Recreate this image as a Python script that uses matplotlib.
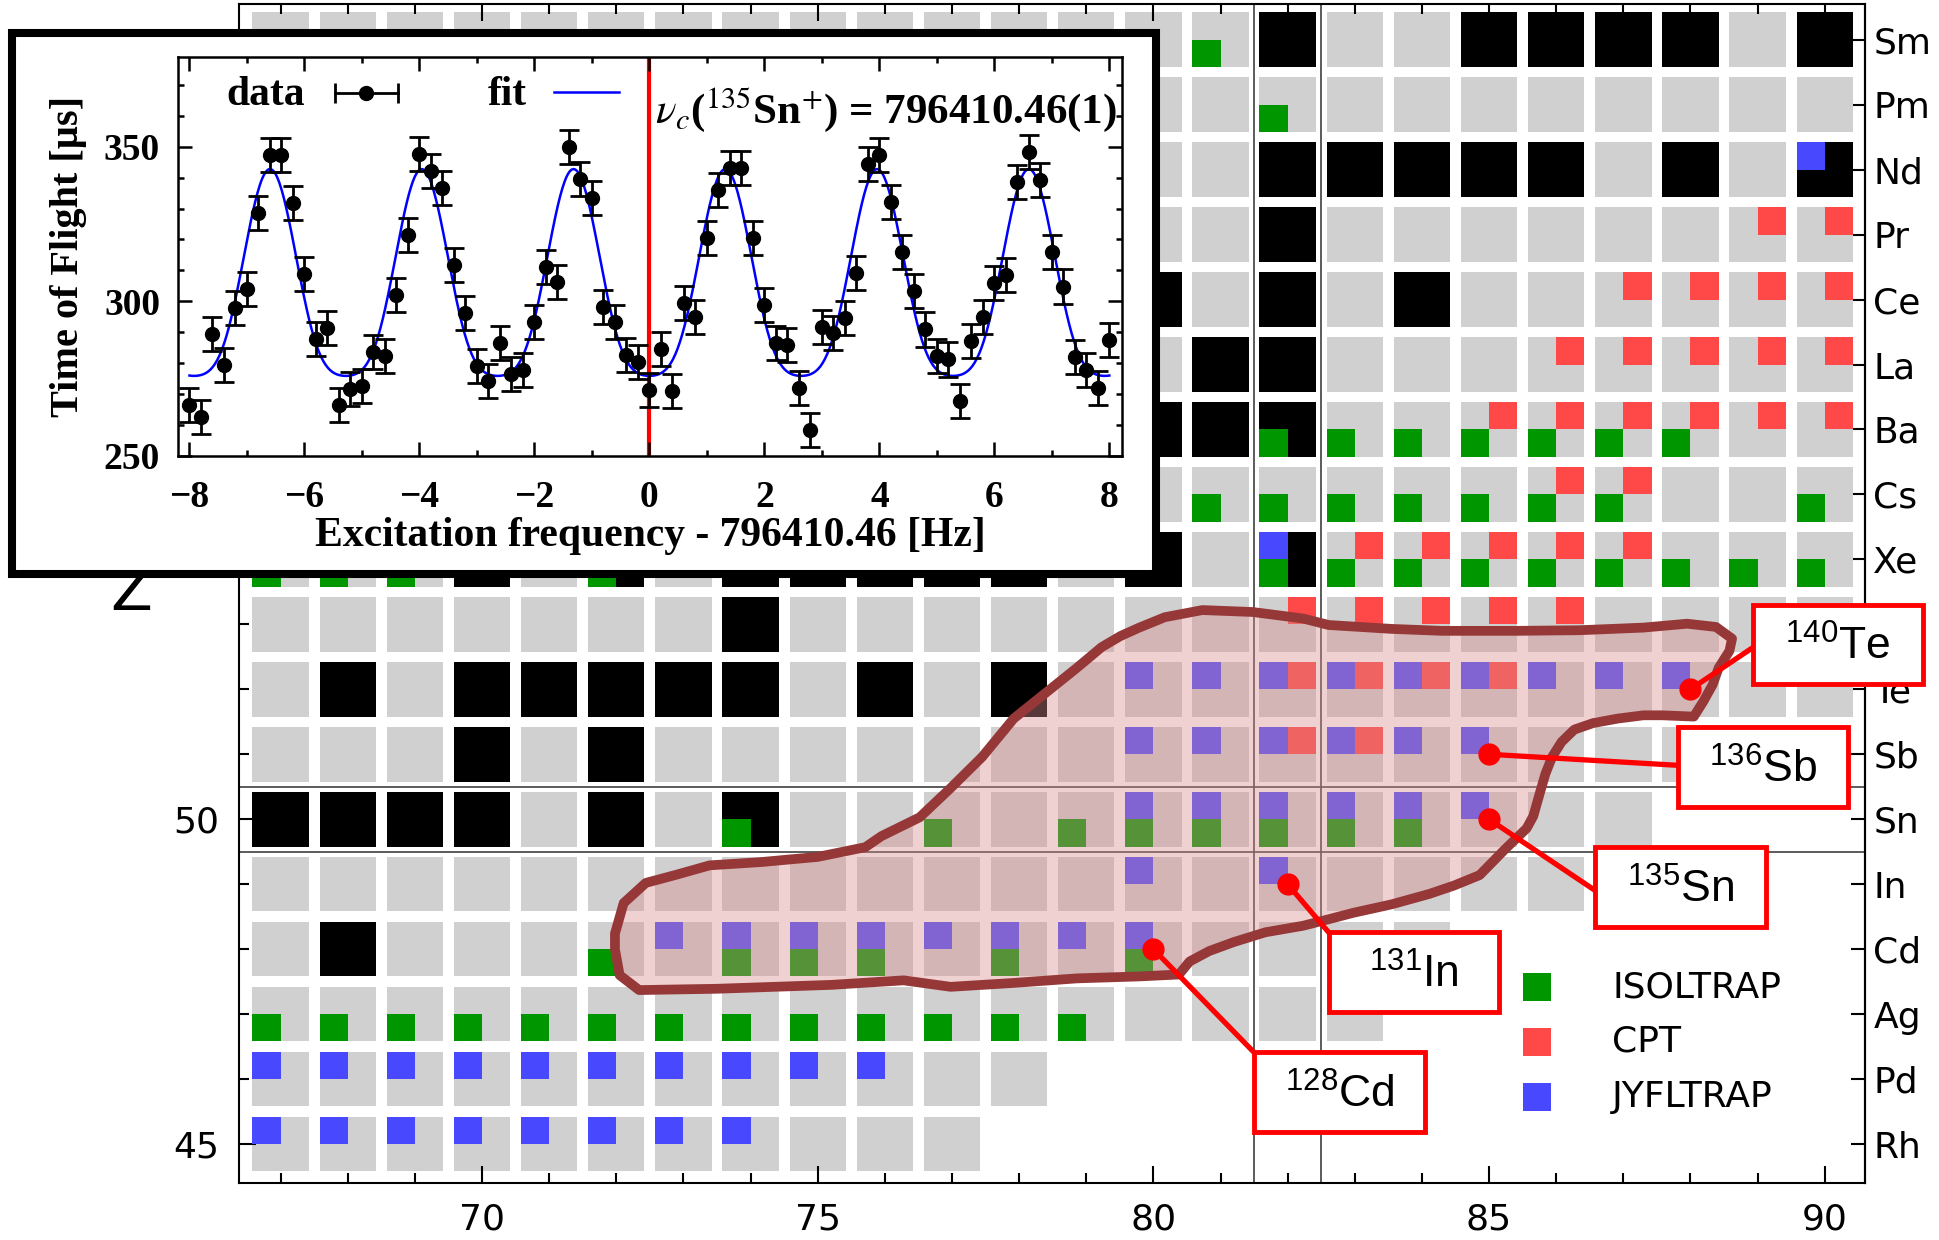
import numpy as np
import matplotlib
matplotlib.use("Agg")
import matplotlib.pyplot as plt
from matplotlib.patches import Rectangle, Polygon
from matplotlib import font_manager

# ---- nuclide chart data ----
N_MIN = 67
row_z = [45, 46, 47, 48, 49, 50, 51, 52, 53, 54, 55, 56, 57, 58, 59, 60, 61, 62]
row_nmax = [77, 78, 83, 84, 86, 87, 88, 90, 90, 90, 90, 90, 90, 90, 90, 90, 90, 90]
# the "I" (Z=53) label sits under the 140Te box in the original, so it is left blank
symbols = ["Rh", "Pd", "Ag", "Cd", "In", "Sn", "Sb", "Te", "", "Xe",
           "Cs", "Ba", "La", "Ce", "Pr", "Nd", "Pm", "Sm"]
# Z = 55 and 60 labels are hidden behind the inset
z_major = [45, 50, 55, 60]
z_major_labels = ["45", "50", "", ""]

# stable nuclides {Z: [N, ...]}
stable = {48: [68], 50: [67, 68, 69, 70, 72, 74], 51: [70, 72],
          52: [68, 70, 71, 72, 73, 74, 76, 78], 53: [74],
          54: [70, 72, 74, 75, 76, 77, 78, 80, 82], 55: [78],
          56: [74, 76, 78, 79, 80, 81, 82], 57: [81, 82], 58: [78, 80, 82, 84],
          59: [82], 60: [82, 83, 84, 85, 86, 88, 90], 62: [82, 85, 86, 87, 88, 90]}

isoltrap = {47: [67, 68, 69, 70, 71, 72, 73, 74, 75, 76, 77, 78, 79],
            48: [72, 74, 75, 76, 78, 80],
            50: [74, 77, 79, 80, 81, 82, 83, 84],
            54: [67, 68, 69, 72, 82, 83, 84, 85, 86, 87, 88, 89, 90],
            55: [80, 81, 82, 83, 84, 85, 86, 87, 90],
            56: [82, 83, 84, 85, 86, 87, 88],
            61: [80, 82], 62: [80, 81]}

cpt = {51: [82, 83], 52: [82, 83, 84, 85], 53: [82, 83, 84, 85, 86],
       54: [83, 84, 85, 86, 87], 55: [86, 87], 56: [85, 86, 87, 88, 89, 90],
       57: [86, 87, 88, 89, 90], 58: [87, 88, 89, 90], 59: [89, 90]}

jyfltrap = {45: [67, 68, 69, 70, 71, 72, 73, 74],
            46: [67, 68, 69, 70, 71, 72, 73, 74, 75, 76],
            48: [73, 74, 75, 76, 77, 78, 79, 80], 49: [80, 82],
            50: [80, 81, 82, 83, 84, 85], 51: [80, 81, 82, 83, 84, 85],
            52: [80, 81, 82, 83, 84, 85, 86, 87, 88], 54: [82], 60: [90]}

# r-process region outline (N, Z)
outline_n = [72.34, 72.05, 71.98, 71.98, 72.11, 72.44, 72.91, 73.39, 74.15, 75.0,
             75.71, 75.95, 76.52, 76.98, 77.45, 77.92, 78.39, 78.86, 79.23, 79.51,
             79.79, 80.17, 80.73, 81.48, 82.23, 82.61, 83.55, 84.30, 85.42, 86.36,
             87.30, 87.95, 88.38, 88.62, 88.58, 88.42, 88.33, 88.19, 88.05, 87.58,
             87.30, 86.92, 86.55, 86.27, 86.08, 85.94, 85.84, 85.75, 85.66, 85.56,
             85.23, 85.05, 84.86, 84.48, 84.11, 83.55, 82.98, 82.61, 82.23, 81.67,
             81.20, 80.83, 80.54, 80.38, 79.79, 78.86, 77.92, 76.98, 76.28, 75.2,
             73.5]
outline_z = [47.37, 47.60, 48.00, 48.24, 48.71, 49.02, 49.15, 49.29, 49.34, 49.42,
             49.57, 49.74, 50.03, 50.48, 50.96, 51.55, 51.94, 52.33, 52.65, 52.82,
             52.95, 53.11, 53.22, 53.19, 53.09, 52.99, 52.93, 52.90, 52.90, 52.91,
             52.95, 53.01, 52.96, 52.78, 52.59, 52.33, 52.07, 51.81, 51.58, 51.60,
             51.60, 51.55, 51.48, 51.38, 51.19, 50.96, 50.70, 50.38, 50.05, 49.86,
             49.53, 49.34, 49.14, 48.98, 48.85, 48.69, 48.56, 48.46, 48.36, 48.26,
             48.11, 47.97, 47.81, 47.61, 47.58, 47.55, 47.48, 47.42, 47.52, 47.45,
             47.39]

# labelled nuclides: mass, symbol, N, Z, box centre (N, Z), line end (N, Z)
lab_mass = ["140", "136", "135", "131", "128"]
lab_sym = ["Te", "Sb", "Sn", "In", "Cd"]
lab_n = [88, 85, 85, 82, 80]
lab_z = [52, 51, 50, 49, 48]
lab_box = [(90.20, 52.69), (89.08, 50.80), (87.85, 48.95), (83.88, 47.65), (82.77, 45.80)]
lab_end = [(88.94, 52.65), (87.81, 50.83), (86.57, 48.91), (82.61, 48.26), (81.50, 46.41)]

# ---- TOF resonance of 135Sn+ ----
SCAN_STEP = 0.2
freq = np.arange(-40, 41) * SCAN_STEP
tof = [266.4, 262.6, 289.3, 279.4, 297.7, 303.9, 328.7, 347.3, 347.3, 331.8,
       308.9, 287.8, 291.5, 266.4, 271.7, 272.6, 283.7, 282.2, 302.0, 321.3,
       347.6, 342.3, 336.7, 311.6, 296.1, 279.1, 274.2, 286.6, 276.6, 277.9,
       293.4, 311.1, 306.1, 349.8, 339.5, 333.3, 298.1, 293.4, 282.5, 280.4,
       271.3, 284.7, 271.1, 299.6, 295.0, 320.4, 336.1, 343.0, 343.2, 320.4,
       298.7, 286.6, 285.9, 272.1, 258.4, 291.8, 289.9, 294.6, 309.1, 344.4,
       347.3, 332.2, 316.0, 303.5, 290.9, 282.2, 281.2, 267.7, 287.2, 294.9,
       305.8, 308.5, 338.6, 348.3, 339.2, 316.0, 304.8, 282.0, 277.9, 271.9,
       287.4]
TOF_ERR = 5.5
FIT_PERIOD = 2.64  # Hz, sideband spacing of the resonance

# ---- style ----
GRAY = "#d0d0d0"
GREEN = "#009600"
RED = "#ff4848"
BLUE = "#4848ff"
HALF = 0.42

names = {f.name for f in font_manager.fontManager.ttflist}
SANS = "Liberation Sans Narrow" if "Liberation Sans Narrow" in names else "DejaVu Sans"
SERIF = "Liberation Serif"
plt.rcParams["font.family"] = SANS
plt.rcParams["mathtext.fontset"] = "custom"
plt.rcParams["mathtext.rm"] = "Liberation Sans"
plt.rcParams["mathtext.it"] = "Liberation Sans:italic"
plt.rcParams["mathtext.bf"] = "Liberation Sans:bold"

W, H = 1939, 1240


def fx(px):
    return px / W


def fy(py):
    return 1 - py / H


fig = plt.figure(figsize=(W / 100, H / 100), dpi=100)

# ---------------- main chart ----------------
ax = fig.add_axes([fx(239), fy(1183), (1865 - 239) / W, (1183 - 4) / H])
ax.set_xlim(66.38, 90.6)
ax.set_ylim(44.4, 62.55)

for z, nmax in zip(row_z, row_nmax):
    for n in range(N_MIN, nmax + 1):
        c = "black" if n in stable.get(z, []) else GRAY
        ax.add_patch(Rectangle((n - HALF, z - HALF), 2 * HALF, 2 * HALF,
                               fc=c, ec="none", zorder=1))


def draw_quadrants(table, color, dx, dy):
    for z, ns in table.items():
        for n in ns:
            ax.add_patch(Rectangle((n + dx, z + dy), HALF, HALF,
                                   fc=color, ec="none", zorder=2))


draw_quadrants(isoltrap, GREEN, -HALF, -HALF)
draw_quadrants(cpt, RED, 0, 0)
draw_quadrants(jyfltrap, BLUE, -HALF, 0)

# magic numbers N=82, Z=50
for v in (81.5, 82.5):
    ax.axvline(v, color="#404040", lw=1.2, zorder=2.5)
for v in (49.5, 50.5):
    ax.axhline(v, color="#404040", lw=1.2, zorder=2.5)

pts = np.column_stack([outline_n, outline_z])
ax.add_patch(Polygon(pts, closed=True, fc="#d98e8e", alpha=0.4, ec="none", zorder=3))
ax.add_patch(Polygon(pts, closed=True, fill=False, ec="#963838", lw=7,
                     joinstyle="round", zorder=4))

for m, s, n, z, box, end in zip(lab_mass, lab_sym, lab_n, lab_z, lab_box, lab_end):
    ax.plot([n, end[0]], [z, end[1]], color="red", lw=3.8, zorder=5, clip_on=False)
    ax.plot(n, z, "o", color="red", ms=15, zorder=6, clip_on=False)
    ax.add_patch(Rectangle((box[0] - 1.27, box[1] - 0.615), 2.54, 1.23, fc="white",
                           ec="red", lw=3.5, zorder=6, clip_on=False))
    ax.text(box[0], box[1] - 0.24, "$^{%s}$%s" % (m, s), ha="center", va="baseline",
            fontsize=32, family="Liberation Sans", math_fontfamily="custom",
            zorder=7, clip_on=False)

ax.set_xticks([70, 75, 80, 85, 90])
ax.set_xticks(range(67, 91), minor=True)
ax.set_yticks(z_major, labels=z_major_labels)
ax.set_yticks(range(45, 63), minor=True)
ax.tick_params(which="both", direction="in", top=True, right=False, width=1.5,
               labelsize=26, pad=14)
ax.tick_params(which="major", length=12)
ax.tick_params(which="minor", length=7)
for sp in ax.spines.values():
    sp.set_linewidth(1.5)

sec = ax.secondary_yaxis("right")
sec.set_ticks(row_z, labels=symbols)
sec.tick_params(direction="in", length=10, width=1.5, labelsize=26, pad=6)
sec.spines["right"].set_linewidth(1.5)

ax.set_ylabel("Z", rotation=0, fontsize=44, va="center", ha="center")
ax.yaxis.set_label_coords(-0.066, 0.5)

# legend of the trap facilities
for lab, col, yc in zip(["ISOLTRAP", "CPT", "JYFLTRAP"], [GREEN, RED, BLUE],
                        [987, 1041.5, 1096.5]):
    fig.add_artist(Rectangle((fx(1523), fy(yc + 14)), 28 / W, 28 / H,
                             transform=fig.transFigure, fc=col, ec="none", zorder=3))
    fig.text(fx(1612), fy(yc), lab, ha="left", va="center", fontsize=26)

# ---------------- inset ----------------
fig.add_artist(Rectangle((fx(12), fy(574)), (1156 - 12) / W, (574 - 33) / H,
                         transform=fig.transFigure, fc="white", ec="black",
                         lw=5.8, zorder=1))

axin = fig.add_axes([fx(178), fy(456), (1122 - 178) / W, (456 - 57) / H], zorder=5)
w = 2 * np.pi / FIT_PERIOD
tof_arr = np.asarray(tof)
A = np.column_stack([np.ones_like(freq), np.cos(w * freq), np.cos(2 * w * freq)])
coef = np.linalg.lstsq(A, tof_arr, rcond=None)[0]
fit_x = np.linspace(freq[0], freq[-1], 800)
fit_y = coef[0] + coef[1] * np.cos(w * fit_x) + coef[2] * np.cos(2 * w * fit_x)

axin.axvline(0, color="red", lw=3, zorder=1.5)
axin.plot(fit_x, fit_y, color="blue", lw=1.8, zorder=2)
axin.errorbar(freq, tof_arr, yerr=TOF_ERR, fmt="o", color="black", ms=10,
              elinewidth=2, capsize=7, capthick=2, zorder=3)
axin.set_xlim(-8.2, 8.22)
axin.set_ylim(250, 379)
axin.set_xticks(range(-8, 9, 2))
axin.set_xticks(range(-7, 8, 2), minor=True)
axin.set_yticks([250, 300, 350])
axin.set_yticks(range(260, 380, 10), minor=True)
axin.tick_params(which="both", direction="in", top=True, right=True, width=1.8,
                 labelsize=27)
axin.tick_params(which="major", length=10)
axin.tick_params(which="minor", length=4)
axin.tick_params(axis="x", pad=17)
axin.tick_params(axis="y", pad=13)
for lbl in axin.get_xticklabels() + axin.get_yticklabels():
    lbl.set_fontfamily(SERIF)
    lbl.set_fontweight("bold")
for sp in axin.spines.values():
    sp.set_linewidth(1.8)

axin.set_xlabel("Excitation frequency - 796410.46 [Hz]", family=SERIF,
                fontweight="bold", fontsize=30, labelpad=2)
axin.set_ylabel("Time of Flight [\u00b5s]", family=SERIF, fontweight="bold",
                fontsize=29, labelpad=12)

# inset key
tr = axin.transAxes
axin.text(0.093, 0.905, "data", transform=tr, ha="center", va="center",
          family=SERIF, fontweight="bold", fontsize=30)
axin.plot([0.166, 0.233], [0.909, 0.909], color="black", lw=2, transform=tr)
axin.plot([0.166, 0.233], [0.909, 0.909], "|", color="black", ms=14, mew=2, transform=tr)
axin.plot([0.199], [0.909], "o", color="black", ms=10, transform=tr)
axin.text(0.349, 0.905, "fit", transform=tr, ha="center", va="center",
          family=SERIF, fontweight="bold", fontsize=30)
axin.plot([0.398, 0.467], [0.912, 0.912], color="blue", lw=1.8, transform=tr)
axin.text(0.505, 0.835, r"$\nu_c$($^{135}$Sn$^{+}$) = 796410.46(1)", transform=tr,
          ha="left", va="baseline", family=SERIF, fontweight="bold", fontsize=31,
          math_fontfamily="stix")

fig.savefig("out.png", dpi=100)
